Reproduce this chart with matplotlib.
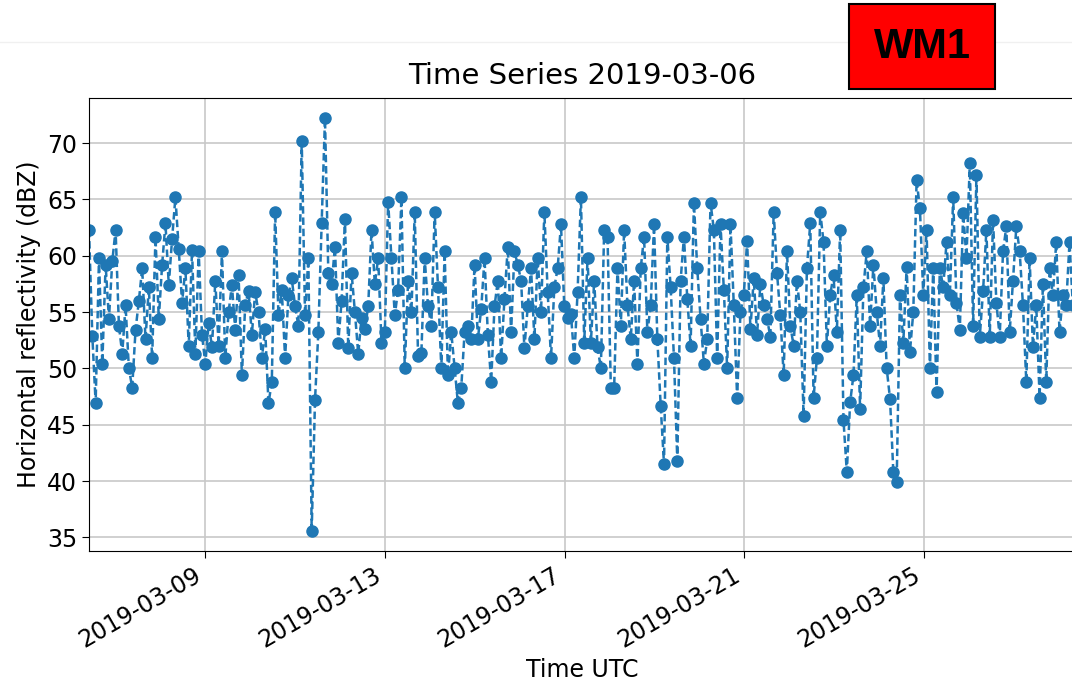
#! /usr/bin/env python

import pandas as pd
import matplotlib.pyplot as plt
import matplotlib.dates as mdates
from matplotlib.patches import Rectangle

title = 'Time Series 2019-03-06'
badge = 'WM1'
start = '2019-03-06 10:00'
step = '6390s'

# values, left to right
seg1 = [62.3, 52.9, 46.9, 59.8, 50.4, 59.2, 54.4, 59.5, 62.3, 53.8,
        51.3, 55.6, 50.0, 48.3, 53.4, 56.0, 58.9, 52.6, 57.2, 50.9,
        61.7, 54.4, 59.2, 62.9, 57.4, 61.5, 65.2, 60.6, 55.8, 58.9,
        52.0, 60.5, 51.3, 60.4, 53.0, 50.4, 54.0, 51.9, 57.8, 52.0,
        60.4, 50.9, 55.0, 57.4, 53.4, 58.3, 49.4, 55.6, 56.9, 53.0]
seg2 = [56.8, 55.0, 50.9, 53.5, 46.9, 48.8, 63.9, 54.7, 57.0, 50.9,
        56.5, 58.0, 55.5, 53.8, 70.2, 54.7, 59.8, 35.6, 47.2, 53.2,
        62.9, 72.2, 58.5, 57.5, 60.8, 52.3, 56.0, 63.3, 51.8, 58.5,
        55.0, 51.3, 54.5, 53.5, 55.5, 62.3, 57.5, 59.8, 52.3, 53.2,
        64.8, 59.8, 54.7, 57.0, 65.2, 50.0, 57.8, 55.0, 63.9, 51.1]
seg3 = [51.4, 59.8, 55.5, 53.8, 63.9, 57.2, 50.0, 60.4, 49.4, 53.2,
        50.0, 46.9, 48.3, 53.2, 53.8, 52.6, 59.2, 52.6, 55.3, 59.8,
        53.0, 48.8, 55.5, 57.8, 50.9, 56.2, 60.8, 53.2, 60.4, 59.2,
        57.8, 51.8, 55.5, 58.9, 52.6, 59.8, 55.0, 63.9, 56.8, 50.9,
        57.2, 58.9, 62.8, 55.5, 54.5, 54.8, 50.9, 56.8, 65.2, 52.3]
seg4 = [59.8, 52.3, 57.8, 51.9, 50.0, 62.3, 61.7, 48.3, 48.3, 58.9,
        53.8, 62.3, 55.6, 52.6, 57.8, 50.4, 58.9, 61.7, 53.2, 55.6,
        62.8, 52.6, 46.7, 41.5, 61.7, 57.2, 50.9, 41.8, 57.8, 61.7,
        56.2, 52.0, 64.7, 58.9, 54.4, 50.4, 52.6, 64.7, 62.3, 50.9,
        62.8, 57.0, 50.0, 62.8, 55.6, 47.4, 55.0, 56.5, 61.3, 53.5]
seg5 = [58.0, 53.0, 57.5, 55.6, 54.4, 52.8, 63.9, 58.5, 54.7, 49.4,
        60.4, 53.8, 52.0, 57.8, 55.0, 45.8, 58.9, 62.9, 47.4, 50.9,
        63.9, 61.2, 52.0, 56.5, 58.3, 53.2, 62.3, 45.4, 40.8, 47.0,
        49.4, 56.5, 46.4, 57.2, 60.4, 53.8, 59.2, 55.0, 52.0, 58.0,
        50.0, 47.3, 40.8, 39.9, 56.5, 52.3, 59.0, 51.5, 55.0, 66.7]
seg6 = [64.2, 56.5, 62.3, 50.0, 58.9, 47.9, 58.9, 57.2, 61.2, 56.5,
        65.2, 55.8, 53.4, 63.8, 59.8, 68.2, 53.8, 67.2, 52.8, 56.9,
        62.3, 52.8, 63.2, 55.8, 52.8, 60.4, 62.6, 53.2, 57.8, 62.6,
        60.4, 55.6, 48.8, 59.8, 51.9, 55.6, 47.4, 57.5, 48.8, 58.9,
        56.5, 61.2, 53.2, 56.5, 55.6, 61.2, 55.6]

dbz = seg1 + seg2 + seg3 + seg4 + seg5 + seg6
times = pd.date_range(start, periods=len(dbz), freq=step)
data = pd.Series(dbz, index=times)

fig = plt.figure(figsize=(10.72, 6.85), dpi=100)
ax = fig.add_axes([89/1072, 1 - 551/685, (1075 - 89)/1072, (551 - 98)/685])

ax.plot(data.index, data.values, linestyle='--', marker='o', color='#1f77b4',
        markersize=8, linewidth=1.8, dashes=(3, 1.5))
ax.grid(True, color='#c8c8c8', linewidth=1.2)
ax.set_xlim(pd.Timestamp(start), pd.Timestamp(start) + pd.Timedelta(days=21.94))
ax.set_ylim(33.8, 74.0)
ax.set_yticks(range(35, 71, 5))
ax.xaxis.set_major_locator(mdates.DayLocator(bymonthday=range(1, 32, 4)))
ax.xaxis.set_major_formatter(mdates.DateFormatter('%Y-%m-%d'))
ax.tick_params(labelsize=17, length=5)
for lbl in ax.get_xticklabels():
    lbl.set_rotation(30)
    lbl.set_ha('right')

ax.set_title(title, fontsize=21, pad=10)
ax.set_xlabel('Time UTC', fontsize=17)
ax.set_ylabel('Horizontal reflectivity (dBZ)', fontsize=17)

# badge in the top right corner
fig.add_artist(plt.Line2D([0, 1], [1 - 42/685, 1 - 42/685], color='#f0f0f0',
                          linewidth=1, zorder=0))
fig.patches.append(Rectangle((849/1072, 1 - 89/685), 146/1072, 85/685,
                             transform=fig.transFigure, facecolor='#ff0000',
                             edgecolor='black', linewidth=1.5, zorder=5))
fig.text(922/1072, 1 - 47/685, badge, fontsize=30, fontweight='bold',
         family='Liberation Sans', ha='center', va='center', zorder=6)

fig.savefig('out.png', dpi=100)
